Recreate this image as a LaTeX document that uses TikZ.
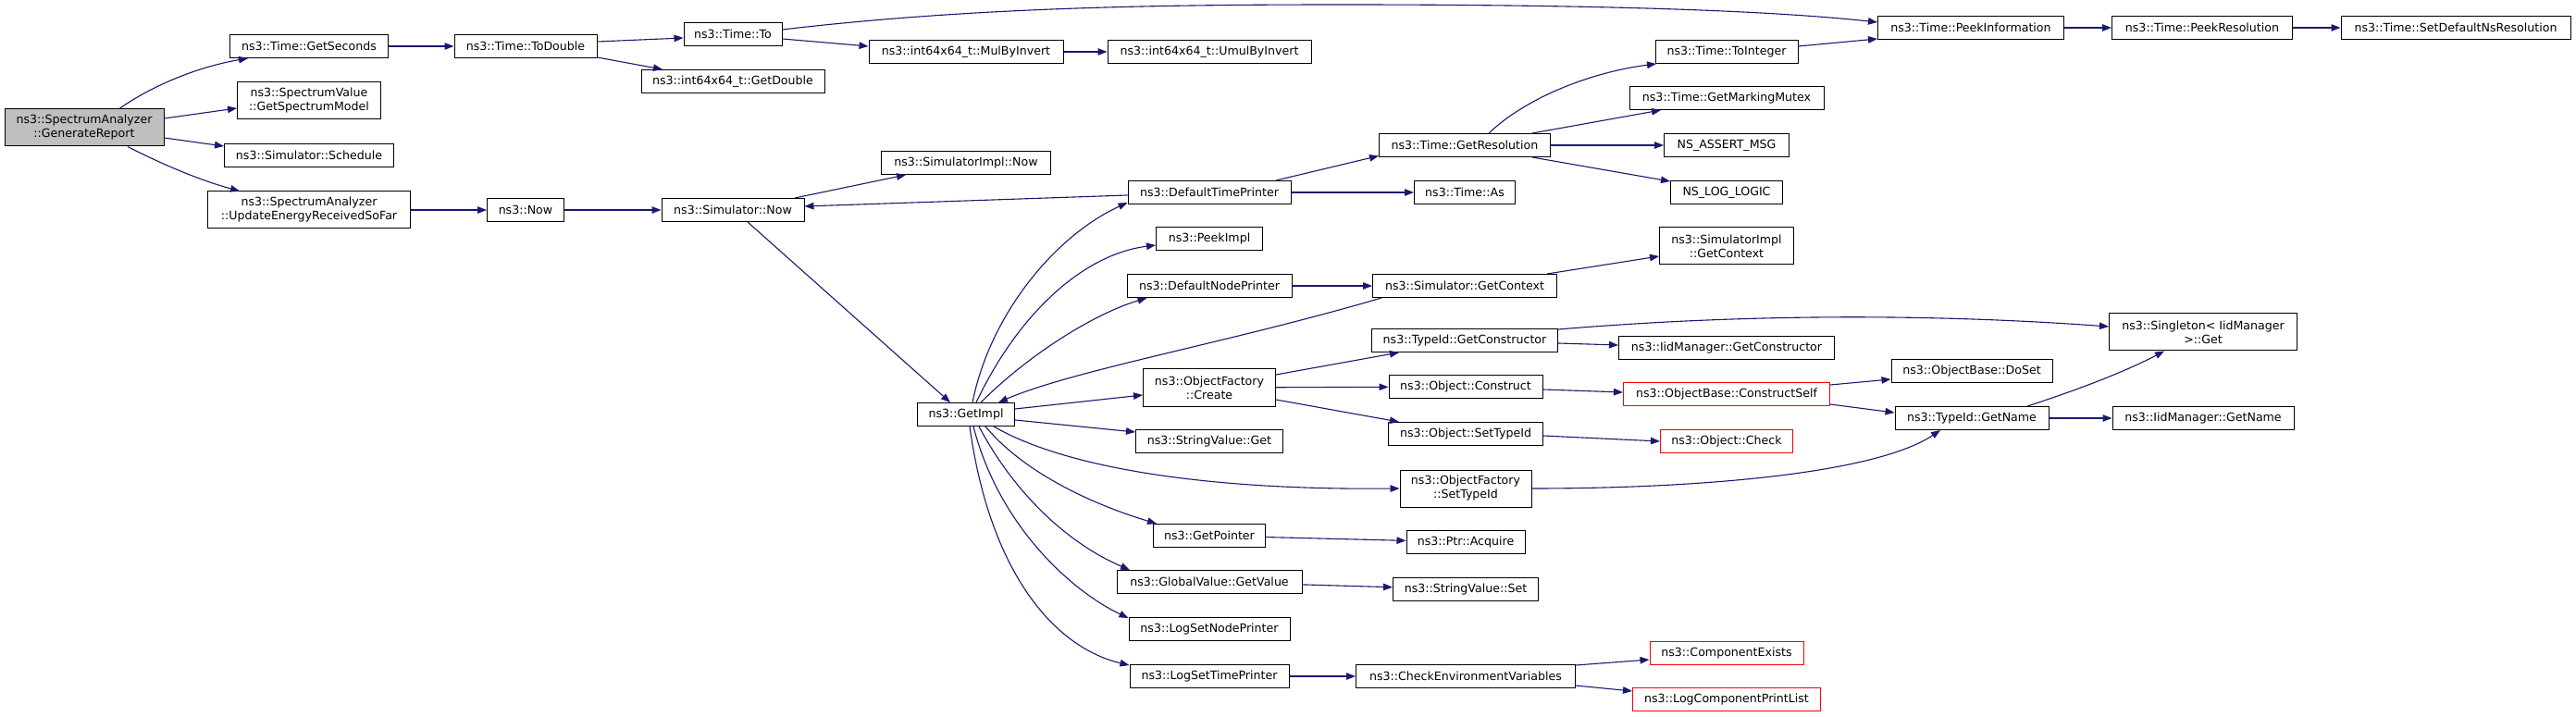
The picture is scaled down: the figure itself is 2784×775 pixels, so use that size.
\documentclass[tikz,border=0pt]{standalone}
\usepackage{fontspec}
\newfontfamily\dvs{DejaVu Sans}
\usetikzlibrary{arrows.meta}
\definecolor{edgec}{RGB}{25,25,112}
\begin{document}
\begin{tikzpicture}[x=1pt,y=-1pt,
  box/.style={draw=black, fill=white, line width=1pt, inner sep=0pt, minimum height=25pt, align=center, font=\dvs\fontsize{12.6}{15}\selectfont},
  tall/.style={minimum height=40pt},
  hl/.style={fill=black!25},
  redbox/.style={draw=red},
  w/.style={minimum width=#1},
  edge/.style={draw=edgec, line width=1.1pt, -{Triangle[length=10pt,width=7.5pt]}}]
\useasboundingbox[fill=white] (0,0) rectangle (2784,775);
% column 1
\node[box,tall,hl,w=172pt] (gr) at (91,138) {ns3::SpectrumAnalyzer\\::GenerateReport};
% column 2
\node[box,w=171pt] (gs) at (334,50) {ns3::Time::GetSeconds};
\node[box,tall,w=155pt] (gsm) at (334,109) {ns3::SpectrumValue\\::GetSpectrumModel};
\node[box,w=183pt] (sch) at (334,168) {ns3::Simulator::Schedule};
\node[box,tall,w=219pt] (ue) at (334,227) {ns3::SpectrumAnalyzer\\::UpdateEnergyReceivedSoFar};
% column 3
\node[box,w=154pt] (td) at (568,50) {ns3::Time::ToDouble};
\node[box,w=83pt] (now) at (568,227) {ns3::Now};
% column 4
\node[box,w=106pt] (to) at (792,37) {ns3::Time::To};
\node[box,w=198pt] (gd) at (792,88) {ns3::int64x64\_t::GetDouble};
\node[box,w=154pt] (snow) at (792,227) {ns3::Simulator::Now};
% column 5
\node[box,w=210pt] (mbi) at (1044,56) {ns3::int64x64\_t::MulByInvert};
\node[box,w=183pt] (sinow) at (1044,176) {ns3::SimulatorImpl::Now};
\node[box,w=105pt] (gi) at (1044,448) {ns3::GetImpl};
% column 6
\node[box,w=220pt] (umbi) at (1307,56) {ns3::int64x64\_t::UmulByInvert};
\node[box,w=176pt] (dtp) at (1307,208) {ns3::DefaultTimePrinter};
\node[box,w=115pt] (pimpl) at (1307,258) {ns3::PeekImpl};
\node[box,w=178pt] (dnp) at (1307,309) {ns3::DefaultNodePrinter};
\node[box,tall,w=143pt] (ofc) at (1307,419) {ns3::ObjectFactory\\::Create};
\node[box,w=159pt] (svg) at (1307,477) {ns3::StringValue::Get};
\node[box,w=121pt] (gp) at (1307,579) {ns3::GetPointer};
\node[box,w=200pt] (gvg) at (1307,629) {ns3::GlobalValue::GetValue};
\node[box,w=174pt] (lsnp) at (1307,680) {ns3::LogSetNodePrinter};
\node[box,w=172pt] (lstp) at (1307,731) {ns3::LogSetTimePrinter};
% column 7
\node[box,w=185pt] (gres) at (1583,157) {ns3::Time::GetResolution};
\node[box,w=109pt] (tas) at (1583,208) {ns3::Time::As};
\node[box,w=199pt] (sgc) at (1583,309) {ns3::Simulator::GetContext};
\node[box,w=201pt] (tgc) at (1583,368) {ns3::TypeId::GetConstructor};
\node[box,w=166pt] (oc) at (1584,418) {ns3::Object::Construct};
\node[box,w=167pt] (ost) at (1584,469) {ns3::Object::SetTypeId};
\node[box,tall,w=142pt] (ofst) at (1584,528) {ns3::ObjectFactory\\::SetTypeId};
\node[box,w=128pt] (pa) at (1584,586) {ns3::Ptr::Acquire};
\node[box,w=157pt] (svs) at (1584,637) {ns3::StringValue::Set};
\node[box,w=237pt] (cev) at (1584,731) {ns3::CheckEnvironmentVariables};
% column 8
\node[box,w=154pt] (ti) at (1866,56) {ns3::Time::ToInteger};
\node[box,w=210pt] (gmm) at (1866,106) {ns3::Time::GetMarkingMutex};
\node[box,w=135pt] (nam) at (1866,157) {NS\_ASSERT\_MSG};
\node[box,w=121pt] (nll) at (1866,208) {NS\_LOG\_LOGIC};
\node[box,tall,w=145pt] (sigc) at (1866,266) {ns3::SimulatorImpl\\::GetContext};
\node[box,w=233pt] (igc) at (1866,376) {ns3::IidManager::GetConstructor};
\node[box,redbox,w=223pt] (cs) at (1866,426) {ns3::ObjectBase::ConstructSelf};
\node[box,redbox,w=143pt] (chk) at (1866,477) {ns3::Object::Check};
\node[box,redbox,w=166pt] (ce) at (1866,706) {ns3::ComponentExists};
\node[box,redbox,w=203pt] (lcpl) at (1866,756) {ns3::LogComponentPrintList};
% column 9
\node[box,w=201pt] (pinf) at (2130,30) {ns3::Time::PeekInformation};
\node[box,w=174pt] (ds) at (2131,401) {ns3::ObjectBase::DoSet};
\node[box,w=166pt] (tgn) at (2131,452) {ns3::TypeId::GetName};
% column 10
\node[box,w=195pt] (pres) at (2380,30) {ns3::Time::PeekResolution};
\node[box,tall,w=203pt] (sg) at (2381,359) {ns3::Singleton< IidManager\\ >::Get};
\node[box,w=196pt] (ign) at (2381,452) {ns3::IidManager::GetName};
% column 11
\node[box,w=248pt] (sdns) at (2654,30) {ns3::Time::SetDefaultNsResolution};
% edges
\draw[edge] ([xshift=38pt]gr.north) .. controls (165,92) and (215,72) .. ([xshift=-66pt]gs.south);
\draw[edge] ([yshift=10pt]gr.east) -- ([yshift=-8pt]gsm.west);
\draw[edge] ([yshift=-11pt]gr.east) -- ([yshift=10pt]sch.west);
\draw[edge] ([xshift=47pt]gr.south) .. controls (180,180) and (220,196) .. ([xshift=-75pt]ue.north);
\draw[edge] (gs) -- (td);
\draw[edge] ([yshift=5pt]td.east) -- ([yshift=-4pt]to.west);
\draw[edge] ([yshift=-12pt]td.east) -- ([xshift=-76pt]gd.north);
\draw[edge] ([yshift=5pt]to.east) .. controls (1050,8) and (1250,5) .. (1450,5) .. controls (1700,5) and (1900,10) .. ([yshift=6pt]pinf.west);
\draw[edge] ([yshift=-5pt]to.east) -- ([yshift=6pt]mbi.west);
\draw[edge] (mbi) -- (umbi);
\draw[edge] (ue) -- (now);
\draw[edge] (now) -- (snow);
\draw[edge] ([xshift=67pt]snow.north) -- ([xshift=-65pt]sinow.south);
\draw[edge] ([xshift=16pt]snow.south) -- ([xshift=-17pt]gi.north);
\draw[edge] ([yshift=-3pt]dtp.west) -- ([yshift=4pt]snow.east);
\draw[edge] ([xshift=72pt]dtp.north) -- ([yshift=1.5pt]gres.south west);
\draw[edge] (dtp) -- (tas);
\draw[edge] ([xshift=26pt]gres.north) .. controls (1650,105) and (1720,78) .. ([xshift=-76pt]ti.south);
\draw[edge] ([xshift=73pt]gres.north) -- ([xshift=-71pt]gmm.south);
\draw[edge] (gres) -- (nam);
\draw[edge] ([xshift=73pt]gres.south) -- ([yshift=12pt]nll.west);
\draw[edge] ([yshift=6pt]ti.east) -- ([yshift=-12pt]pinf.west);
\draw[edge] (pinf) -- (pres);
\draw[edge] (pres) -- (sdns);
\draw[edge] ([xshift=7pt]gi.north) .. controls (1070,340) and (1140,255) .. ([yshift=2pt]dtp.south west);
\draw[edge] ([xshift=11pt]gi.north) .. controls (1100,340) and (1170,275) .. ([yshift=-7pt]pimpl.west);
\draw[edge] ([xshift=16pt]gi.north) .. controls (1110,385) and (1180,340) .. ([xshift=22pt]dnp.south west);
\draw[edge] ([xshift=-90pt]sgc.south) .. controls (1330,370) and (1160,400) .. ([xshift=35pt]gi.north);
\draw[edge] (dnp) -- (sgc);
\draw[edge] ([xshift=89pt]sgc.north) -- ([yshift=-11pt]sigc.west);
\draw[edge] ([yshift=6pt]gi.east) -- ([yshift=-8pt]ofc.west);
\draw[edge] ([yshift=14pt]ofc.east) -- ([xshift=-71pt]tgc.south);
\draw[edge] (ofc) -- (oc);
\draw[edge] ([yshift=-13pt]ofc.east) -- ([xshift=-72pt]ost.north);
\draw[edge] ([yshift=12pt]tgc.east) .. controls (1900,338) and (2100,340) .. ([yshift=6pt]sg.west);
\draw[edge] ([yshift=-3pt]tgc.east) -- ([yshift=3pt]igc.west);
\draw[edge] ([yshift=-3pt]oc.east) -- ([yshift=2pt]cs.west);
\draw[edge] ([yshift=10pt]cs.east) -- ([yshift=-9pt]ds.west);
\draw[edge] ([yshift=-11pt]cs.east) -- ([yshift=6pt]tgn.west);
\draw[edge] ([xshift=60pt]tgn.north) .. controls (2250,420) and (2300,400) .. ([xshift=-42pt]sg.south);
\draw[edge] (tgn) -- (ign);
\draw[edge] ([yshift=-2pt]ost.east) -- (chk.west);
\draw[edge] (ofst.east) .. controls (1850,528) and (2030,510) .. ([xshift=-34pt]tgn.south);
\draw[edge] ([yshift=-6pt]gi.east) -- ([yshift=10pt]svg.west);
\draw[edge] ([xshift=30pt]gi.south) .. controls (1150,505) and (1300,530) .. (ofst.west);
\draw[edge] ([xshift=21pt]gi.south) .. controls (1110,515) and (1190,548) .. ([xshift=-57pt]gp.north);
\draw[edge] (gp) -- (pa);
\draw[edge] ([xshift=14pt]gi.south) .. controls (1100,540) and (1160,590) .. ([xshift=-86pt]gvg.north);
\draw[edge] (gvg) -- (svs);
\draw[edge] ([xshift=8pt]gi.south) .. controls (1080,570) and (1160,640) .. ([yshift=-1pt]lsnp.north west);
\draw[edge] ([xshift=4pt]gi.south) .. controls (1070,620) and (1140,700) .. ([yshift=-1pt]lstp.north west);
\draw[edge] (lstp) -- (cev);
\draw[edge] ([yshift=12pt]cev.east) -- ([yshift=-7pt]ce.west);
\draw[edge] ([yshift=-10pt]cev.east) -- ([yshift=9pt]lcpl.west);
\end{tikzpicture}
\end{document}
